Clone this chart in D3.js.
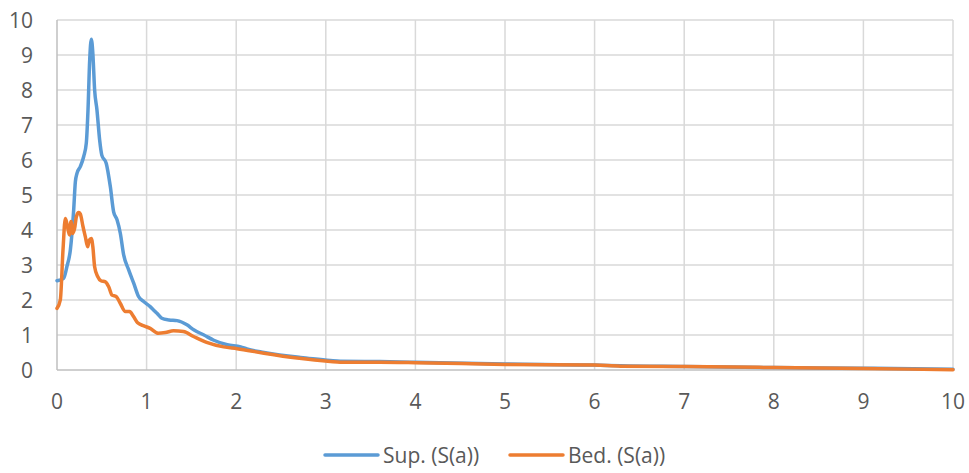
<!DOCTYPE html>
<html><head><meta charset="utf-8">
<script src="https://cdn.jsdelivr.net/npm/d3@7/dist/d3.min.js"></script>
<style>body{margin:0;background:#fff}svg{display:block}</style>
</head><body>
<svg id="c" width="969" height="473"></svg>
<script>
const seriesNames = ["Sup. (S(a))", "Bed. (S(a))"];
const colors = ["#5B9BD5", "#ED7D31"];
const xTicks = [0,1,2,3,4,5,6,7,8,9,10];
const yTicks = [0,1,2,3,4,5,6,7,8,9,10];

const supX = [0,0.074,0.11,0.149,0.186,0.205,0.223,0.26,0.298,0.327,0.346,0.365,0.383,0.40,0.42,0.446,0.476,0.50,0.55,0.595,0.632,0.67,0.707,0.744,0.80,0.856,0.91,0.97,1.04,1.08,1.116,1.17,1.25,1.34,1.45,1.53,1.64,1.75,1.90,2.05,2.12,2.31,2.68,2.72,3.05,3.16,3.6,4,5,6,6.29,7,8,9,10];
const supY = [2.55,2.62,2.95,3.43,4.57,5.38,5.62,5.81,6.1,6.48,7.43,8.86,9.45,9.05,8.0,7.43,6.57,6.14,5.9,5.24,4.52,4.29,3.9,3.29,2.86,2.48,2.1,1.95,1.81,1.71,1.62,1.48,1.43,1.41,1.29,1.14,1.0,0.85,0.72,0.66,0.6,0.5,0.37,0.36,0.27,0.25,0.24,0.22,0.17,0.14,0.12,0.1,0.07,0.05,0.02];

const bedX = [0,0.037,0.067,0.093,0.11,0.138,0.156,0.175,0.197,0.216,0.242,0.26,0.29,0.316,0.342,0.36,0.383,0.40,0.42,0.454,0.49,0.54,0.577,0.614,0.66,0.707,0.763,0.81,0.856,0.9,0.97,1.04,1.13,1.21,1.30,1.41,1.53,1.67,1.86,2.01,2.31,2.68,3.05,3.16,3.6,4,5,6,6.29,7,8,9,10];
const bedY = [1.76,2.0,3.43,4.33,4.19,3.86,4.24,3.9,4.05,4.38,4.5,4.46,4.1,3.81,3.52,3.71,3.76,3.52,2.95,2.67,2.55,2.52,2.38,2.14,2.1,1.9,1.67,1.67,1.52,1.35,1.26,1.19,1.05,1.07,1.12,1.10,0.95,0.79,0.66,0.61,0.48,0.34,0.24,0.22,0.22,0.21,0.16,0.14,0.11,0.1,0.07,0.04,0.01];

const svg = d3.select("#c");
const L = 57, R = 953, T = 20, B = 370;
const x = d3.scaleLinear().domain([0,10]).range([L,R]);
const y = d3.scaleLinear().domain([0,10]).range([B,T]);
const font = "'Open Sans', Lato, sans-serif";
const fs = 21;

// grid
svg.append("g").selectAll("line").data(yTicks.filter(d=>d>0)).join("line")
  .attr("x1",L).attr("x2",R).attr("y1",d=>y(d)).attr("y2",d=>y(d))
  .attr("stroke","#d9d9d9").attr("stroke-width",1.5);
svg.append("g").selectAll("line").data(xTicks.filter(d=>d>0)).join("line")
  .attr("x1",d=>x(d)).attr("x2",d=>x(d)).attr("y1",T).attr("y2",B)
  .attr("stroke","#d9d9d9").attr("stroke-width",1.5);
// axes lines
svg.append("line").attr("x1",L).attr("x2",L).attr("y1",T).attr("y2",B).attr("stroke","#bfbfbf").attr("stroke-width",1.5);
svg.append("line").attr("x1",L).attr("x2",R).attr("y1",B).attr("y2",B).attr("stroke","#bfbfbf").attr("stroke-width",1.5);

// tick labels
svg.append("g").selectAll("text").data(yTicks).join("text")
  .attr("x",33).attr("y",d=>y(d)).attr("dy","0.36em").attr("text-anchor","end")
  .attr("font-family",font).attr("font-size",fs).attr("fill","#595959").text(d=>d);
svg.append("g").selectAll("text").data(xTicks).join("text")
  .attr("x",d=>x(d)).attr("y",401).attr("dy","0.36em").attr("text-anchor","middle")
  .attr("font-family",font).attr("font-size",fs).attr("fill","#595959").text(d=>d);

const line = d3.line().x(d=>x(d[0])).y(d=>y(d[1])).curve(d3.curveMonotoneX);
const supData = supX.map((v,i)=>[v,supY[i]]);
const bedData = bedX.map((v,i)=>[v,bedY[i]]);
[supData, bedData].forEach((data,i)=>{
  svg.append("path").datum(data).attr("d",line).attr("fill","none")
    .attr("stroke",colors[i]).attr("stroke-width",3.5).attr("stroke-linejoin","round").attr("stroke-linecap","round");
});

// legend
const legX = [325, 510];
seriesNames.forEach((n,i)=>{
  svg.append("line").attr("x1",legX[i]).attr("x2",legX[i]+53).attr("y1",455).attr("y2",455)
    .attr("stroke",colors[i]).attr("stroke-width",3.5).attr("stroke-linecap","round");
  svg.append("text").attr("x",legX[i]+58).attr("y",455).attr("dy","0.36em")
    .attr("font-family",font).attr("font-size",fs).attr("fill","#595959").text(n);
});
</script>
</body></html>
